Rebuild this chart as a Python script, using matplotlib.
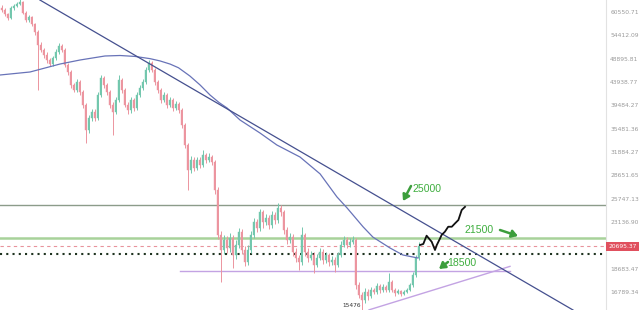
import matplotlib
matplotlib.use("Agg")
import matplotlib.pyplot as plt
from matplotlib.transforms import blended_transform_factory
import numpy as np

# ---- daily BTC candles (open = previous close) ----
first_open = 61800
closes = [61110, 60000, 58900, 61670, 62240, 62820, 63390, 60270, 58370, 59180,
          57310, 55250, 52060, 50880, 49720, 48600, 47710, 49040, 50410, 51820,
          50880, 47500, 46000, 43340, 42360, 43940, 41970, 39540, 35270, 37260,
          38300, 37260, 41400, 44750, 43340, 41970, 39540, 38300, 40460, 44340,
          42360, 39540, 38650, 40460, 39000, 41400, 42750, 43940, 46420, 47930,
          46420, 43940, 42360, 40460, 41400, 39540, 40460, 39000, 39720, 38650,
          36080, 32920, 29360, 30740, 29630, 30740, 30040, 31450, 30740, 31160,
          30460, 26790, 21800, 20350, 21300, 20540, 21500, 19890, 20820, 22100,
          20350, 19260, 20350, 21800, 23140, 22510, 24180, 23140, 23560, 22820,
          23890, 23350, 24670, 24180, 22300, 21300, 21600, 20160, 19620, 19260,
          21800, 20160, 19620, 19890, 19000, 19620, 20160, 19440, 19890, 19260,
          19440, 19000, 19890, 20820, 21300, 20820, 21110, 21300, 17340, 16560,
          16190, 16790, 16490, 16940, 16790, 17260, 16940, 17180, 16940, 17580,
          16940, 16710, 16870, 16640, 16790, 16940, 17340, 18150, 19620, 20695.37]
highs = [62600, 61700, 60400, 62100, 62800, 63300, 64200, 63700, 60800, 59800,
         59500, 57700, 55700, 52800, 51400, 50300, 49100, 49500, 51000, 52500,
         52300, 51300, 47900, 46400, 43800, 44500, 44300, 42300, 39900, 37800,
         38900, 38800, 41900, 45300, 45200, 43800, 42300, 40000, 41000, 45370,
         44800, 42700, 40000, 41000, 40900, 41900, 43300, 44500, 47000, 48600,
         48300, 46800, 44300, 42700, 42000, 41800, 41000, 40900, 40300, 40100,
         39000, 36400, 33300, 31300, 31100, 31200, 31100, 32180, 31800, 31700,
         31500, 30800, 27100, 22200, 21800, 21700, 22000, 21800, 21300, 22510,
         22400, 20700, 20800, 22200, 23600, 23500, 24600, 24500, 24000, 23900,
         24300, 24200, 25240, 25000, 24400, 22600, 22000, 21900, 20500, 19900,
         22620, 22000, 20500, 20300, 20200, 20000, 20500, 20400, 20200, 20100,
         19800, 19700, 20200, 21200, 21700, 21600, 21500, 21700, 21500, 17600,
         16800, 17100, 17000, 17200, 17100, 17500, 17400, 17400, 17300, 18310,
         17700, 17100, 17000, 16950, 16950, 17100, 17500, 18400, 19900, 21100]
lows = [60500, 59500, 58300, 58600, 61200, 61900, 62400, 59900, 57900, 57800,
        56800, 54600, 42360, 50300, 49100, 48000, 47200, 47300, 48600, 50000,
        50300, 47000, 45400, 42800, 41900, 42000, 41400, 39000, 33230, 34800,
        36800, 36700, 36900, 41000, 42800, 41400, 39000, 34470, 37900, 40000,
        41800, 39100, 38000, 38200, 38500, 38600, 41000, 42300, 43500, 46000,
        45900, 43400, 41800, 39900, 40000, 39000, 39100, 38400, 38600, 38100,
        35600, 32400, 26790, 29000, 29200, 29300, 29600, 29700, 30300, 30400,
        30000, 26300, 21400, 17580, 20000, 20100, 20200, 18740, 19500, 20500,
        20000, 18900, 19000, 20100, 21500, 22100, 22200, 22500, 22800, 22400,
        22500, 22900, 23000, 23800, 21900, 20900, 21000, 19800, 19300, 18570,
        19000, 19800, 19300, 19400, 18310, 18800, 19400, 19100, 19200, 18900,
        19000, 18400, 18800, 19700, 20600, 20500, 20600, 20900, 17000, 16300,
        15476, 16000, 16200, 16300, 16600, 16600, 16700, 16800, 16800, 16800,
        16800, 16500, 16600, 16500, 16550, 16700, 16850, 17200, 18000, 19400]

# ---- long moving average ----
ma_x = [-0.5, 9.5, 19.5, 26.2, 34.5, 39.5, 44.5, 49.5, 52.8, 56.2, 59.0, 62.8,
        66.2, 69.5, 72.5, 75.2, 79.5, 86.2, 91.8, 99.5, 106.2, 111.8, 115.2,
        120.5, 123.8, 129.5, 133.8, 138.8]
ma_price = [45370, 46000, 47710, 48600, 49500, 49610, 49400, 48900, 48400, 47700,
            46900, 45160, 43340, 41400, 40000, 39000, 36920, 34770, 32920, 31160,
            28840, 25960, 24670, 22640, 21590, 20540, 19890, 19620]

# ---- drawn trend lines and levels ----
trend_x = [12.8, 190.5]
trend_price = [63973, 15460]
rise_x = [122.5, 169.5]
rise_price = [15470, 18880]
support_x = [59.5, 169.5]
support_level = 18500
level_25000 = 25000
level_21500 = 21500
last_price = 20695.37
dotted_level = 19950
low_price = 15476

# ---- projected path ----
forecast_x = [139.5, 140.6, 141.7, 143.4, 144.5, 145.1, 146.2, 146.7, 147.8,
              148.9, 150.1, 151.2, 152.3, 153.4, 154.5]
forecast_price = [20820, 20920, 21730, 21130, 20350, 20820, 21470, 21800, 22130,
                  22640, 22640, 23000, 23350, 24440, 24800]

# ---- right price scale ----
tick_values = [60550.71, 54412.09, 48895.81, 43938.77, 39484.27, 35481.36,
               31884.27, 28651.65, 25747.13, 23136.90, 18683.47, 16789.34]
tick_labels = ["60550.71", "54412.09", "48895.81", "43938.77", "39484.27",
               "35481.36", "31884.27", "28651.65", "25747.13", "23136.90",
               "18683.47", "16789.34"]

UP = "#72c7ad"
DOWN = "#ec949f"

fig = plt.figure(figsize=(6.4, 3.1), dpi=100)
ax = fig.add_axes([0, 0, 606 / 640, 1])
ax.set_yscale("log")
ax.set_xlim(-0.5, 201.5)
ax.set_ylim(15460, 63973)

opens = [first_open] + closes[:-1]
idx = np.arange(len(closes))
o = np.array(opens, dtype=float)
c = np.array(closes, dtype=float)
h = np.array(highs, dtype=float)
l = np.array(lows, dtype=float)
col = np.where(c >= o, UP, DOWN)

ax.vlines(idx, l, h, colors=col, linewidth=0.7, zorder=3)
bottom = np.minimum(o, c)
top = np.maximum(o, c)
ax.bar(idx, top - bottom, bottom=bottom, width=0.62, color=col,
       edgecolor=col, linewidth=0.3, zorder=4)

# levels
ax.axhline(level_25000, color="#8c9c8a", lw=1.0, zorder=2)
ax.axhline(level_21500, color="#a8d29a", lw=1.8, zorder=2)
ax.axhline(last_price, color="#e8939c", lw=0.8, ls=(0, (3, 3)), zorder=2)
ax.axhline(dotted_level, color="#1f3320", lw=1.5, ls=(0, (1, 2)), zorder=2)
ax.plot(support_x, [support_level, support_level], color="#c3a3e3", lw=1.0, zorder=2)
ax.plot(rise_x, rise_price, color="#c3a3e3", lw=1.0, zorder=2)

# moving average and downtrend line
ax.plot(ma_x, ma_price, color="#6873b8", lw=0.9, zorder=5)
ax.plot(trend_x, trend_price, color="#45508f", lw=0.9, zorder=5)

# projected path
ax.plot(forecast_x, forecast_price, color="#111111", lw=1.3, zorder=6)

# annotations (axes-fraction positions)
def frac(px, py):
    return px / 606, 1 - py / 310

green_txt = "#3fae3f"
for txt, (px, py) in [("25000", (427, 189)), ("21500", (479, 230)), ("18500", (462, 262.5))]:
    ax.text(*frac(px, py), txt, transform=ax.transAxes, ha="center", va="center",
            color=green_txt, fontsize=7.6, family="Liberation Sans", zorder=7)

for tail, head in [((411, 186), (403, 201)), ((500, 230), (518, 236)), ((448, 262), (439, 269))]:
    ax.annotate("", xy=frac(*head), xycoords="axes fraction",
                xytext=frac(*tail), textcoords="axes fraction",
                arrowprops=dict(arrowstyle="-|>,head_width=0.22,head_length=0.35",
                                color="#3c9e3c", lw=1.8, shrinkA=0, shrinkB=0),
                zorder=7)

# lowest-low marker text, placed just above the bottom edge
ax.text(*frac(361, 305.5), str(low_price), transform=ax.transAxes, ha="right",
        va="center", fontsize=4.2, color="#333333", zorder=7)

# right price axis
ax.yaxis.tick_right()
ax.set_yticks(tick_values)
ax.set_yticklabels(tick_labels)
ax.yaxis.set_minor_locator(matplotlib.ticker.NullLocator())
ax.tick_params(axis="y", length=0, pad=3, labelsize=4.3, labelcolor="#9a9a9a")
ax.set_xticks([])
for s in ("left", "top", "bottom"):
    ax.spines[s].set_visible(False)
ax.spines["right"].set_color("#e2e2e2")
ax.spines["right"].set_linewidth(0.8)

tr = blended_transform_factory(ax.transAxes, ax.transData)
ax.text(1.004, last_price, f"{last_price:.2f}", transform=tr, ha="left", va="center",
        fontsize=4.3, color="white",
        bbox=dict(boxstyle="square,pad=0.35", facecolor="#e0505e", edgecolor="none"),
        zorder=8, clip_on=False)

fig.savefig("out.png", dpi=100, facecolor="white")
